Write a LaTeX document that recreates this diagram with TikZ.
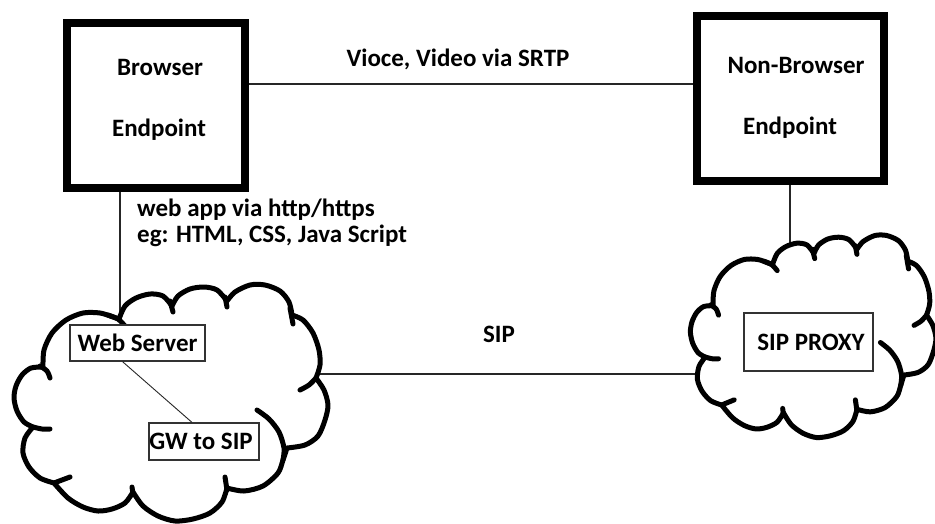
\documentclass[tikz,border=0pt]{standalone}
\usepackage{fontspec}
\setmainfont{Carlito}
\pgfdeclarelayer{background}
\pgfsetlayers{background,main}
\tikzset{
  cloudline/.style={line width=5pt, line cap=round, line join=round},
}
% puffy cloud: eleven puffs joined at cusps, plus the short curls that run inward
\newcommand\puffcloud{%
  \filldraw[cloudline, fill=white]
    plot[smooth] coordinates {(43,367) (44,350) (52,333) (66,320) (83,313) (100,313) (113,317) (119,319)}
    -- plot[smooth] coordinates {(119,319) (125,306) (136,298) (150,294) (163,296) (172,306)}
    -- plot[smooth] coordinates {(172,306) (178,296) (190,289) (204,287) (217,290) (227,301)}
    -- plot[smooth] coordinates {(227,301) (235,292) (250,285) (265,285) (280,291) (289,302) (292,315)}
    -- plot[smooth] coordinates {(292,315) (303,320) (313,333) (319,350) (320,365) (316,378)}
    -- plot[smooth] coordinates {(316,378) (324,390) (328,405) (325,420) (318,436) (305,445) (287,448)}
    -- plot[smooth] coordinates {(287,448) (283,460) (278,473) (263,486) (244,491) (227,488)}
    -- plot[smooth] coordinates {(227,488) (222,502) (210,513) (193,519) (175,521) (158,516) (143,506) (133,492)}
    -- plot[smooth] coordinates {(133,492) (125,503) (112,509) (98,511) (83,507) (68,498) (54,483)}
    -- plot[smooth] coordinates {(54,483) (40,478) (29,467) (23,453) (25,438) (33,427)}
    -- plot[smooth] coordinates {(33,427) (24,422) (17,411) (14,398) (16,386) (22,375) (31,368) (43,367)}
    -- cycle;
  \draw[cloudline] plot[smooth] coordinates {(108,315) (118,319) (125,326)};
  \draw[cloudline] plot[smooth] coordinates {(170,301) (173,312)};
  \draw[cloudline] plot[smooth] coordinates {(225,297) (227,307)};
  \draw[cloudline] plot[smooth] coordinates {(290,308) (293,324)};
  \draw[cloudline] plot[smooth] coordinates {(316,378) (309,385) (300,390)};
  \draw[cloudline] plot[smooth] coordinates {(257,410) (269,419) (279,432) (284,448) (283,460)};
  \draw[cloudline] plot[smooth] coordinates {(227,490) (225,477)};
  \draw[cloudline] plot[smooth] coordinates {(133,494) (132,487)};
  \draw[cloudline] plot[smooth] coordinates {(54,483) (62,480) (70,477)};
  \draw[cloudline] plot[smooth] coordinates {(33,427) (42,429) (50,429)};
  \draw[cloudline] plot[smooth] coordinates {(40,366) (47,371) (50,378)};
}
\begin{document}
\begin{tikzpicture}[x=1pt,y=-1pt,
  every node/.style={font=\bfseries\fontsize{25}{22}\selectfont, text=black, inner sep=0pt},
  endbox/.style={draw=black, line width=8pt, fill=white, minimum width=#1, minimum height=165pt},
  tagbox/.style={draw=black!80, line width=1.2pt, fill=white},
  link/.style={draw=black!85, line width=1.3pt}]
\useasboundingbox (0,0) rectangle (935,523);

% endpoints
\node[endbox=178pt] (browser) at (156,105) {};
\node[anchor=base] (browser1) at (160,75) {Browser};
\node[anchor=base] (browser2) at (159,136) {Endpoint};
\node[endbox=187pt] (nonbrowser) at (790.5,98) {};
\node[anchor=base] (nonbrowser1) at (796,73) {Non-Browser};
\node[anchor=base] (nonbrowser2) at (790,134) {Endpoint};

% clouds
\puffcloud
\begin{scope}[shift={(690,235.5)}, xscale=0.782, yscale=0.856, shift={(-13.5,-285)}]
  \puffcloud
\end{scope}
\node[minimum width=314.5pt, minimum height=236pt] (leftcloud) at (170.75,403) {};
\node[minimum width=246pt, minimum height=202pt] (rightcloud) at (813,336.5) {};

% services inside the clouds
\node[tagbox, minimum width=135pt, minimum height=36pt] (webserver) at (137.5,343) {Web Server};
\node[tagbox, minimum width=110pt, minimum height=37pt] (gw) at (204,441.5) {\hspace*{-6pt}GW to SIP};
\node[tagbox, minimum width=129pt, minimum height=58pt] (proxy) at (808.5,342) {\hspace*{5pt}SIP PROXY};

% connector guide points
\coordinate (srtp) at (0,84);
\coordinate (sipline) at (0,374);
\coordinate (webdrop) at (120,0);
\coordinate (nbdrop) at (790,0);

\begin{pgfonlayer}{background}
  \draw[link] (browser.east |- srtp) -- (nonbrowser.west |- srtp);
  \draw[link] (webdrop |- browser.south) -- (webdrop |- webserver.north);
  \draw[link] (nbdrop |- nonbrowser.south) -- (nbdrop |- proxy.north);
  \draw[link] (leftcloud.center |- sipline) -- (rightcloud.center |- sipline);
\end{pgfonlayer}
\draw[link, line width=0.9pt] ([xshift=-15pt]webserver.south) -- ([xshift=-12pt]gw.north);

% labels
\node[anchor=base] (srtplabel) at (458,66) {Vioce, Video via SRTP};
\node[anchor=base west] (weblabel1) at (137,216) {web app via http/https};
\node[anchor=base west] (weblabel2) at (137,242) {eg: HTML, CSS, Java Script};
\node[anchor=base] (siplabel) at (499,342) {SIP};
\end{tikzpicture}
\end{document}
